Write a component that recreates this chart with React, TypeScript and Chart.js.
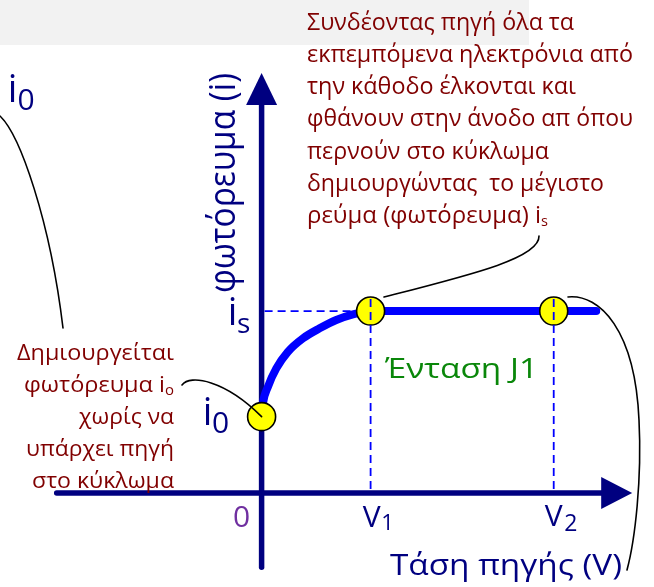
import React, { useEffect, useRef } from "react";
import { Chart, registerables } from "chart.js";

Chart.register(...registerables);

// ---- data (voltage in units of V1, current in units of i_s) ----
const X_MIN = -2.4;
const X_MAX = 3.6;
const Y_MIN = -0.516;
const Y_MAX = 2.709;

const voltage = [0, 0.012, 0.058, 0.135, 0.241, 0.379, 0.532, 0.685, 0.838, 0.96, 1.0, 3.07];
const current = [0.42, 0.493, 0.584, 0.685, 0.776, 0.85, 0.905, 0.951, 0.982, 0.996, 1.0, 1.0];

const markerV = [0, 1.0, 2.68];
const markerI = [0.42, 1.0, 1.0];

const V1 = 1.0;
const V2 = 2.68;
const IS = 1.0;
const I0 = 0.42;

const X_AXIS_FROM = -1.88;
const X_AXIS_TO = 3.4;
const Y_AXIS_FROM = -0.407;
const Y_AXIS_TO = 2.308;

const xAxisTitle = "Τάση πηγής (V)";
const yAxisTitle = "φωτόρευμα (i)";
const curveLabel = "Ένταση J1";

const topNote = [
  "Συνδέοντας πηγή όλα τα",
  "εκπεμπόμενα ηλεκτρόνια από",
  "την κάθοδο έλκονται και",
  "φθάνουν στην άνοδο απ όπου",
  "περνούν στο κύκλωμα",
  "δημιουργώντας  το μέγιστο",
  "ρεύμα (φωτόρευμα) i",
];
const topNoteSub = ["", "", "", "", "", "", "s"];

const leftNote = ["Δημιουργείται", "φωτόρευμα i", "χωρίς να", "υπάρχει πηγή", "στο κύκλωμα"];
const leftNoteSub = ["", "o", "", "", ""];

// ---- styles ----
const FONT = "'Open Sans', 'Noto Sans', sans-serif";
const NAVY = "#000080";
const DARKRED = "#800000";
const GREEN = "#0a870a";
const PURPLE = "#7030A0";
const BLUE = "#0000FF";

type Part = [string, number, number];

function drawRich(
  ctx: CanvasRenderingContext2D,
  parts: Part[],
  x: number,
  y: number,
  width: number | null,
  align: "left" | "right" | "center"
) {
  let total = 0;
  const ws = parts.map(([t, s]) => {
    ctx.font = `${s}px ${FONT}`;
    const w = ctx.measureText(t).width;
    total += w;
    return w;
  });
  const sx = width ? width / total : 1;
  const start = align === "right" ? x - total * sx : align === "center" ? x - (total * sx) / 2 : x;
  ctx.save();
  ctx.textAlign = "left";
  ctx.textBaseline = "alphabetic";
  ctx.translate(start, y);
  ctx.scale(sx, 1);
  let cx = 0;
  parts.forEach(([t, s, dy], i) => {
    ctx.font = `${s}px ${FONT}`;
    ctx.fillText(t, cx, dy);
    cx += ws[i];
  });
  ctx.restore();
}

function glyph(ctx: CanvasRenderingContext2D, t: string, cx: number, y: number, size: number) {
  ctx.font = `${size}px ${FONT}`;
  ctx.textAlign = "center";
  ctx.textBaseline = "alphabetic";
  ctx.fillText(t, cx, y);
}

const diagramPlugin = {
  id: "diagram",
  beforeDraw(chart: any) {
    const ctx = chart.ctx as CanvasRenderingContext2D;
    ctx.save();
    ctx.fillStyle = "#F2F2F2";
    ctx.fillRect(0, 0, 529, 45);
    ctx.restore();
  },
  beforeDatasetsDraw(chart: any) {
    const ctx = chart.ctx as CanvasRenderingContext2D;
    const xs = chart.scales.x;
    const ys = chart.scales.y;
    const px = (v: number) => xs.getPixelForValue(v);
    const py = (v: number) => ys.getPixelForValue(v);
    ctx.save();
    // axes
    ctx.strokeStyle = NAVY;
    ctx.fillStyle = NAVY;
    ctx.lineWidth = 5.5;
    ctx.lineCap = "round";
    const x0 = px(0);
    const y0 = py(0);
    const xt = px(X_AXIS_TO);
    ctx.beginPath();
    ctx.moveTo(px(X_AXIS_FROM), y0);
    ctx.lineTo(xt - 28, y0);
    ctx.stroke();
    ctx.beginPath();
    ctx.moveTo(xt, y0);
    ctx.lineTo(xt - 31, y0 - 16);
    ctx.lineTo(xt - 31, y0 + 16);
    ctx.closePath();
    ctx.fill();
    const yt = py(Y_AXIS_TO);
    ctx.beginPath();
    ctx.moveTo(x0, py(Y_AXIS_FROM));
    ctx.lineTo(x0, yt + 28);
    ctx.stroke();
    ctx.beginPath();
    ctx.moveTo(x0, yt);
    ctx.lineTo(x0 - 15.5, yt + 32);
    ctx.lineTo(x0 + 15.5, yt + 32);
    ctx.closePath();
    ctx.fill();
    // horizontal guide at i_s
    ctx.strokeStyle = BLUE;
    ctx.lineWidth = 1.8;
    ctx.lineCap = "butt";
    ctx.setLineDash([8, 5]);
    ctx.beginPath();
    ctx.moveTo(x0 + 3, py(IS));
    ctx.lineTo(px(V1), py(IS));
    ctx.stroke();
    ctx.restore();
  },
  afterDatasetsDraw(chart: any) {
    const ctx = chart.ctx as CanvasRenderingContext2D;
    const xs = chart.scales.x;
    const ys = chart.scales.y;
    const px = (v: number) => xs.getPixelForValue(v);
    const py = (v: number) => ys.getPixelForValue(v);
    const x0 = px(0);
    const y0 = py(0);
    ctx.save();
    // vertical guides
    ctx.strokeStyle = BLUE;
    ctx.lineWidth = 1.8;
    ctx.setLineDash([8, 5]);
    [V1, V2].forEach((v) => {
      ctx.beginPath();
      ctx.moveTo(px(v), py(IS) - 12);
      ctx.lineTo(px(v), y0 - 3);
      ctx.stroke();
    });
    ctx.setLineDash([]);

    // leader lines
    ctx.strokeStyle = "#000";
    ctx.lineWidth = 1.6;
    ctx.lineCap = "round";
    ctx.beginPath();
    ctx.moveTo(0, 116);
    ctx.bezierCurveTo(20, 135, 50, 220, 63, 328);
    ctx.stroke();
    ctx.beginPath();
    ctx.moveTo(182, 385);
    ctx.bezierCurveTo(190, 374, 225, 380, px(0), py(I0));
    ctx.stroke();
    ctx.beginPath();
    ctx.moveTo(539, 236);
    ctx.bezierCurveTo(540, 258, 470, 275, 384, 297);
    ctx.stroke();
    ctx.beginPath();
    ctx.moveTo(568, 297);
    ctx.bezierCurveTo(600, 294, 635, 330, 639, 420);
    ctx.bezierCurveTo(642, 480, 635, 540, 627, 570);
    ctx.stroke();

    // notes
    ctx.fillStyle = DARKRED;
    const topW = [267, 326, 269, 326, 242, 297, 241];
    topNote.forEach((t, i) => {
      const parts: Part[] = [[t, 23, 0]];
      if (topNoteSub[i]) parts.push([topNoteSub[i], 14, 3]);
      drawRich(ctx, parts, 307, 29.5 + i * 32.25, topW[i], "left");
    });
    const leftW = [157, 150, 95, 148, 142];
    const leftY = [359.5, 391.5, 424, 456, 487.5];
    leftNote.forEach((t, i) => {
      const parts: Part[] = [[t, 22, 0]];
      if (leftNoteSub[i]) parts.push([leftNoteSub[i], 14, 3]);
      drawRich(ctx, parts, 174, leftY[i], leftW[i], "right");
    });

    // axis labels
    ctx.fillStyle = NAVY;
    glyph(ctx, "i", 12.5, 102, 38);
    glyph(ctx, "0", 26, 110, 30);
    glyph(ctx, "i", x0 - 54, py(I0) + 8, 38);
    glyph(ctx, "0", x0 - 41, py(I0) + 16, 30);
    glyph(ctx, "i", x0 - 29, py(IS) + 14, 38);
    glyph(ctx, "s", x0 - 18, py(IS) + 22, 28);
    glyph(ctx, "V", px(V1) + 1, y0 + 34, 30);
    glyph(ctx, "1", px(V1) + 17, y0 + 37, 22);
    glyph(ctx, "V", px(V2), y0 + 33, 30);
    glyph(ctx, "2", px(V2) + 17, y0 + 38, 23);
    drawRich(ctx, [[xAxisTitle, 30, 0]], 390, 575, 232, "left");

    ctx.save();
    ctx.translate(235, 293);
    ctx.rotate(-Math.PI / 2);
    drawRich(ctx, [[yAxisTitle, 36, 0]], 0, 0, 220, "left");
    ctx.restore();

    ctx.fillStyle = PURPLE;
    glyph(ctx, "0", x0 - 20, y0 + 34, 30);

    ctx.fillStyle = GREEN;
    drawRich(ctx, [[curveLabel, 27, 0]], 385, 378, 153, "left");

    ctx.restore();
  },
};

export default function App() {
  const ref = useRef<HTMLCanvasElement>(null);
  useEffect(() => {
    const canvas = ref.current!;
    const chart = new Chart(canvas, {
      type: "scatter",
      data: {
        datasets: [
          {
            label: "points",
            data: markerV.map((v, i) => ({ x: v, y: markerI[i] })),
            pointRadius: 14,
            pointBackgroundColor: "#FFFF00",
            pointBorderColor: "#000000",
            pointBorderWidth: 1.6,
            showLine: false,
            order: 0,
            clip: false,
          } as any,
          {
            label: "J1",
            data: voltage.map((v, i) => ({ x: v, y: current[i] })),
            showLine: true,
            borderColor: BLUE,
            borderWidth: 8,
            borderCapStyle: "round",
            borderJoinStyle: "round",
            cubicInterpolationMode: "monotone",
            pointRadius: 0,
            order: 1,
            clip: false,
          } as any,
        ],
      },
      options: {
        animation: false,
        responsive: false,
        maintainAspectRatio: false,
        devicePixelRatio: 1,
        events: [],
        layout: { padding: 0, autoPadding: false },
        plugins: {
          legend: { display: false },
          tooltip: { enabled: false },
          title: { display: false },
        },
        scales: {
          x: { type: "linear", min: X_MIN, max: X_MAX, display: false },
          y: { type: "linear", min: Y_MIN, max: Y_MAX, display: false },
        },
      },
      plugins: [diagramPlugin as any],
    });
    return () => chart.destroy();
  }, []);
  return (
    <div style={{ position: "fixed", left: 0, top: 0, width: 654, height: 587, background: "#ffffff" }}>
      <canvas ref={ref} width={654} height={587} style={{ display: "block", width: 654, height: 587 }} />
    </div>
  );
}
